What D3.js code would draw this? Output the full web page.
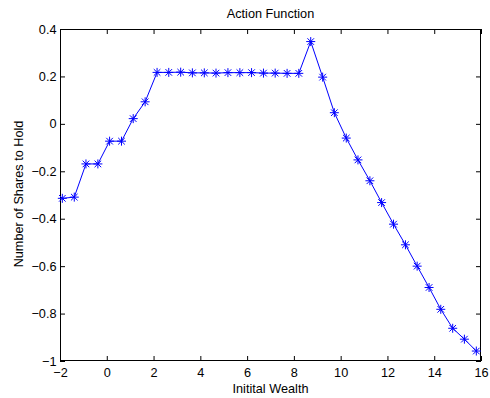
<!DOCTYPE html>
<html><head><meta charset="utf-8">
<script src="https://cdn.jsdelivr.net/npm/d3@7"></script>
<style>body{margin:0;background:#fff}svg{display:block}text{font-family:"Liberation Sans",Arial,sans-serif;fill:#000}</style>
</head><body>
<svg id="c" width="490" height="398"></svg>
<script>
const wealth = [-1.9,-1.39,-0.89,-0.38,0.12,0.63,1.13,1.64,2.15,2.65,3.16,3.66,4.17,4.67,5.18,5.69,6.19,6.70,7.20,7.71,8.21,8.72,9.23,9.73,10.24,10.74,11.25,11.75,12.26,12.77,13.27,13.78,14.28,14.79,15.29,15.80];
const shares = [-0.314,-0.309,-0.169,-0.169,-0.073,-0.073,0.022,0.093,0.217,0.217,0.218,0.215,0.215,0.214,0.216,0.216,0.216,0.214,0.214,0.213,0.213,0.347,0.197,0.047,-0.06,-0.152,-0.24,-0.332,-0.423,-0.51,-0.6,-0.69,-0.782,-0.862,-0.908,-0.958];
const xTicks = [-2,0,2,4,6,8,10,12,14,16];
const yTicks = [0.4,0.2,0,-0.2,-0.4,-0.6,-0.8,-1];
const title = "Action Function", xLabel = "Initital Wealth", yLabel = "Number of Shares to Hold";

const L=60,R=481,T=29,B=361,FS=12.7;
const svg=d3.select("#c");
const x=d3.scaleLinear().domain([-2,16]).range([L,R]);
const y=d3.scaleLinear().domain([-1,0.4]).range([B,T]);
const fmt=d=>String(d).replace("-","\u2212");

const tl=5;
svg.append("g").attr("transform",`translate(0,${B})`)
  .call(d3.axisBottom(x).tickValues(xTicks).tickSizeInner(-tl).tickSizeOuter(0).tickPadding(7).tickFormat(fmt));
svg.append("g").attr("transform",`translate(0,${T})`)
  .call(d3.axisTop(x).tickValues(xTicks).tickSizeInner(-tl).tickSizeOuter(0).tickFormat(""));
svg.append("g").attr("transform",`translate(${L},0)`)
  .call(d3.axisLeft(y).tickValues(yTicks).tickSizeInner(-tl).tickSizeOuter(0).tickPadding(3.5).tickFormat(fmt));
svg.append("g").attr("transform",`translate(${R},0)`)
  .call(d3.axisRight(y).tickValues(yTicks).tickSizeInner(-tl).tickSizeOuter(0).tickFormat(""));
svg.selectAll(".domain").remove();
svg.selectAll(".tick line").attr("stroke","#000");
svg.selectAll(".tick text").attr("font-size",FS).attr("font-family","Liberation Sans, Arial, sans-serif");
svg.append("rect").attr("x",L+0.5).attr("y",T+0.5).attr("width",R-L-1).attr("height",B-T-1)
  .attr("fill","none").attr("stroke","#000");

const data=wealth.map((w,i)=>[w,shares[i]]);
svg.append("path").datum(data).attr("fill","none").attr("stroke","#0000ff").attr("stroke-width",1)
  .attr("d",d3.line().x(d=>x(d[0])).y(d=>y(d[1])));
const s=4.5, s2=3.3;
const mk=svg.append("g").attr("stroke","#0000ff").attr("stroke-width",1);
data.forEach(d=>{
  const cx=x(d[0]),cy=y(d[1]);
  mk.append("path").attr("d",`M${cx-s},${cy}H${cx+s}M${cx},${cy-s}V${cy+s}M${cx-s2},${cy-s2}L${cx+s2},${cy+s2}M${cx-s2},${cy+s2}L${cx+s2},${cy-s2}`);
});

svg.append("text").attr("x",(L+R)/2).attr("y",18).attr("text-anchor","middle").attr("font-size",FS).text(title);
svg.append("text").attr("x",(L+R)/2).attr("y",392.5).attr("text-anchor","middle").attr("font-size",FS).text(xLabel);
svg.append("text").attr("transform",`translate(23,194) rotate(-90)`).attr("text-anchor","middle").attr("font-size",FS).text(yLabel);
</script>
</body></html>
